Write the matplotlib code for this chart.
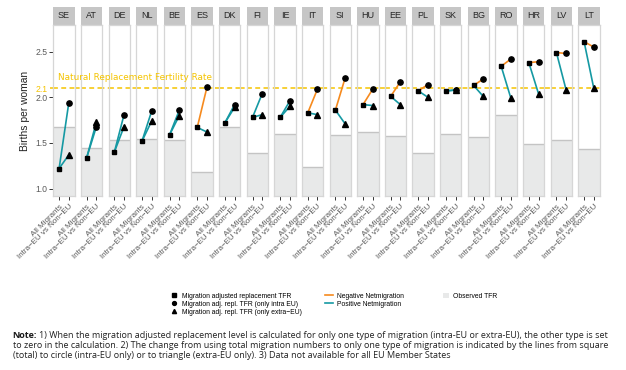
import matplotlib
matplotlib.use('Agg')
import matplotlib.pyplot as plt
from matplotlib.lines import Line2D
from matplotlib.patches import Patch, Rectangle

# ---------------- data ----------------
countries = ['SE', 'AT', 'DE', 'NL', 'BE', 'ES', 'DK', 'FI', 'IE', 'IT',
             'SI', 'HU', 'EE', 'PL', 'SK', 'BG', 'RO', 'HR', 'LV', 'LT']
tfr_all_migrants = [1.22, 1.34, 1.40, 1.52, 1.59, 1.67, 1.72, 1.78, 1.78, 1.83,
                    1.86, 1.92, 2.01, 2.07, 2.07, 2.13, 2.34, 2.38, 2.49, 2.61]
tfr_intra_eu = [1.94, 1.68, 1.81, 1.85, 1.86, 2.11, 1.92, 2.04, 1.96, 2.09,
                2.21, 2.09, 2.17, 2.14, 2.08, 2.20, 2.42, 2.39, 2.48, 2.55]
tfr_extra_eu = [1.37, 1.73, 1.68, 1.74, 1.80, 1.62, 1.89, 1.81, 1.90, 1.81,
                1.71, 1.91, 1.92, 2.00, 2.08, 2.01, 1.99, 2.04, 2.08, 2.10]
tfr_observed = [1.68, 1.44, 1.53, 1.54, 1.53, 1.18, 1.68, 1.39, 1.60, 1.24,
                1.59, 1.62, 1.58, 1.39, 1.60, 1.57, 1.81, 1.49, 1.53, 1.43]
# net migration sign for intra-EU / extra-EU lines
intra_netmig = ['pos', 'pos', 'pos', 'pos', 'pos', 'neg', 'pos', 'pos', 'pos', 'neg',
                'neg', 'neg', 'neg', 'neg', 'pos', 'neg', 'neg', 'neg', 'neg', 'neg']
extra_netmig = ['pos'] * 20
x_labels = ['All Migrants', 'Intra\u2212EU vs Non\u2212EU']
y_ticks = [1.0, 1.5, 2.0, 2.1, 2.5]
y_ticklabels = ['1.0', '1.5', '2.0', '2.1', '2.5']
replacement_rate = 2.1

# ---------------- style ----------------
ORANGE = '#f68a1e'
TEAL = '#1599a3'
GOLD = '#f5c400'
OBS_FILL = '#e8e9e9'
OBS_LINE = '#c4c4c4'
STRIP = '#c6c6c6'
BORDER = '#d6d6d6'
TXT = '#5a5a5a'
FONT = ['Liberation Sans', 'DejaVu Sans']
plt.rcParams['font.family'] = FONT

W, H = 626, 370
fig = plt.figure(figsize=(W / 100, H / 100), dpi=100)
renderer = fig.canvas.get_renderer()


def fx(px):
    return px / W


def fy(py):
    return 1 - py / H


def fit_size(text, size, target, **kw):
    for _ in range(3):
        t = fig.text(0, 0, text, fontsize=size, **kw)
        w = t.get_window_extent(renderer).width
        t.remove()
        size = size * target / w
    return size


PANEL_TOP, PANEL_BOT = 25.0, 196.0
X0, STEP, PW = 53.3, 27.63, 21.3
YLIM = (0.919, 2.792)
XLIM = (0.4, 2.6)

# background axes for the continuous replacement line
bg = fig.add_axes([fx(50), fy(PANEL_BOT), fx(X0 + 19 * STEP + PW) - fx(50),
                   (PANEL_BOT - PANEL_TOP) / H], zorder=0)
bg.set_ylim(*YLIM)
bg.axis('off')
bg.axhline(replacement_rate, color=GOLD, ls=(0, (3.2, 2.2)), lw=1.1)

strip_h = 18.0 / (PANEL_BOT - PANEL_TOP)
for i, c in enumerate(countries):
    left = X0 + i * STEP
    ax = fig.add_axes([fx(left), fy(PANEL_BOT), PW / W, (PANEL_BOT - PANEL_TOP) / H], zorder=1)
    ax.set_xlim(*XLIM)
    ax.set_ylim(*YLIM)
    ax.axhspan(YLIM[0] - 1, tfr_observed[i], facecolor=OBS_FILL, edgecolor='none', zorder=0.5)
    ax.axhline(tfr_observed[i], color=OBS_LINE, lw=1.0, zorder=0.6)
    ax.axhline(replacement_rate, color=GOLD, ls=(0, (3.2, 2.2)), lw=1.1, zorder=0.7)
    ci = ORANGE if intra_netmig[i] == 'neg' else TEAL
    ce = ORANGE if extra_netmig[i] == 'neg' else TEAL
    ax.plot([1, 2], [tfr_all_migrants[i], tfr_intra_eu[i]], color=ci, lw=1.2, zorder=2)
    ax.plot([1, 2], [tfr_all_migrants[i], tfr_extra_eu[i]], color=ce, lw=1.2, zorder=2)
    ax.plot([1], [tfr_all_migrants[i]], marker='s', color='black', ms=3.5, ls='none', zorder=3)
    ax.plot([2], [tfr_intra_eu[i]], marker='o', color='black', ms=3.8, ls='none', zorder=3)
    ax.plot([2], [tfr_extra_eu[i]], marker='^', color='black', ms=4.0, ls='none', zorder=3)
    for s in ax.spines.values():
        s.set_color(BORDER)
        s.set_linewidth(0.9)
    ax.set_xticks([1, 2])
    ax.set_xticklabels(x_labels, rotation=45, ha='right', va='top',
                       rotation_mode='anchor', fontsize=5.8, color=TXT)
    ax.tick_params(axis='x', length=2.8, width=0.7, color='#333333', pad=2.5)
    if i == 0:
        ax.set_yticks(y_ticks)
        ax.set_yticklabels(y_ticklabels, fontsize=6.2, color=TXT)
        ax.tick_params(axis='y', length=2.8, width=0.7, color='#333333', pad=1.5)
        ticks = ax.yaxis.get_major_ticks()
        ticks[3].tick1line.set_visible(False)
        ax.get_yticklabels()[3].set_color(GOLD)
        ax.set_ylabel('Births per woman', fontsize=7.4, color='#222222', labelpad=4)
    else:
        ax.set_yticks([])
    ax.add_patch(Rectangle((0, 1), 1, strip_h, transform=ax.transAxes,
                           facecolor=STRIP, edgecolor='none', clip_on=False))
    ax.text(0.5, 1 + strip_h / 2, c, transform=ax.transAxes, ha='center', va='center',
            fontsize=6.5, color='#262626')

nat_text = 'Natural Replacement Fertility Rate'
nat_fs = fit_size(nat_text, 7.0, 152.0, family=['DejaVu Sans'])
fig.text(fx(58), fy(77.7), nat_text, color=GOLD,
         fontsize=nat_fs, family=['DejaVu Sans'], va='center', ha='left')

# ---------------- legends ----------------
lfs = 4.9
h_shapes = [Line2D([], [], marker='s', color='black', ls='none', ms=2.6),
            Line2D([], [], marker='o', color='black', ls='none', ms=2.8),
            Line2D([], [], marker='^', color='black', ls='none', ms=3.0)]
l_shapes = ['Migration adjusted replacement TFR', 'Migration adj. repl. TFR (only intra EU)',
            'Migration adj. repl. TFR (only extra\u2212EU)']
h_lines = [Line2D([], [], color=ORANGE, lw=1.2), Line2D([], [], color=TEAL, lw=1.2)]
l_lines = ['Negative Netmigration', 'Positive Netmigration']
h_obs = [Patch(facecolor=OBS_FILL, edgecolor='none')]
l_obs = ['Observed TFR']

common = dict(loc='upper left', frameon=False, fontsize=lfs, borderpad=0,
              borderaxespad=0, labelspacing=0.15, handletextpad=0.6)
leg1 = fig.legend(h_shapes, l_shapes, bbox_to_anchor=(fx(171), fy(292.5)),
                  handlelength=1.0, **common)
leg2 = fig.legend(h_lines, l_lines, bbox_to_anchor=(fx(325), fy(292.5)),
                  handlelength=1.2, **common)
leg3 = fig.legend(h_obs, l_obs, bbox_to_anchor=(fx(443), fy(292.5)),
                  handlelength=0.9, handleheight=0.9, **common)

# ---------------- note ----------------
note_lines = [
    '1) When the migration adjusted replacement level is calculated for only one type of migration (intra-EU or extra-EU), the other type is set',
    'to zero in the calculation. 2) The change from using total migration numbers to only one type of migration is indicated by the lines from square',
    '(total) to circle (intra-EU only) or to triangle (extra-EU only). 3) Data not available for all EU Member States',
]
note_font = ['Open Sans', 'DejaVu Sans']
nfs = 6.0
target = 610.0 - 12.7
for _ in range(3):
    tb = fig.text(0, 0, 'Note: ', fontsize=nfs, family=note_font, weight='bold')
    tr = fig.text(0, 0, note_lines[0], fontsize=nfs, family=note_font)
    wtot = tb.get_window_extent(renderer).width + tr.get_window_extent(renderer).width
    tb.remove(); tr.remove()
    nfs = nfs * target / wtot

note_y = [335.7, 346.0, 355.5]
tb = fig.text(fx(12.7), fy(note_y[0]), 'Note:', fontsize=nfs, family=note_font,
              weight='bold', va='center', color='#1a1a1a')
tsp = fig.text(0, 0, 'Note: ', fontsize=nfs, family=note_font, weight='bold')
bw = tsp.get_window_extent(renderer).width
tsp.remove()
fig.text(fx(12.7 + bw), fy(note_y[0]), note_lines[0], fontsize=nfs, family=note_font,
         va='center', color='#222222')
for k in (1, 2):
    fig.text(fx(12.7), fy(note_y[k]), note_lines[k], fontsize=nfs, family=note_font,
             va='center', color='#222222')

fig.savefig('out.png', dpi=100, facecolor='white')
